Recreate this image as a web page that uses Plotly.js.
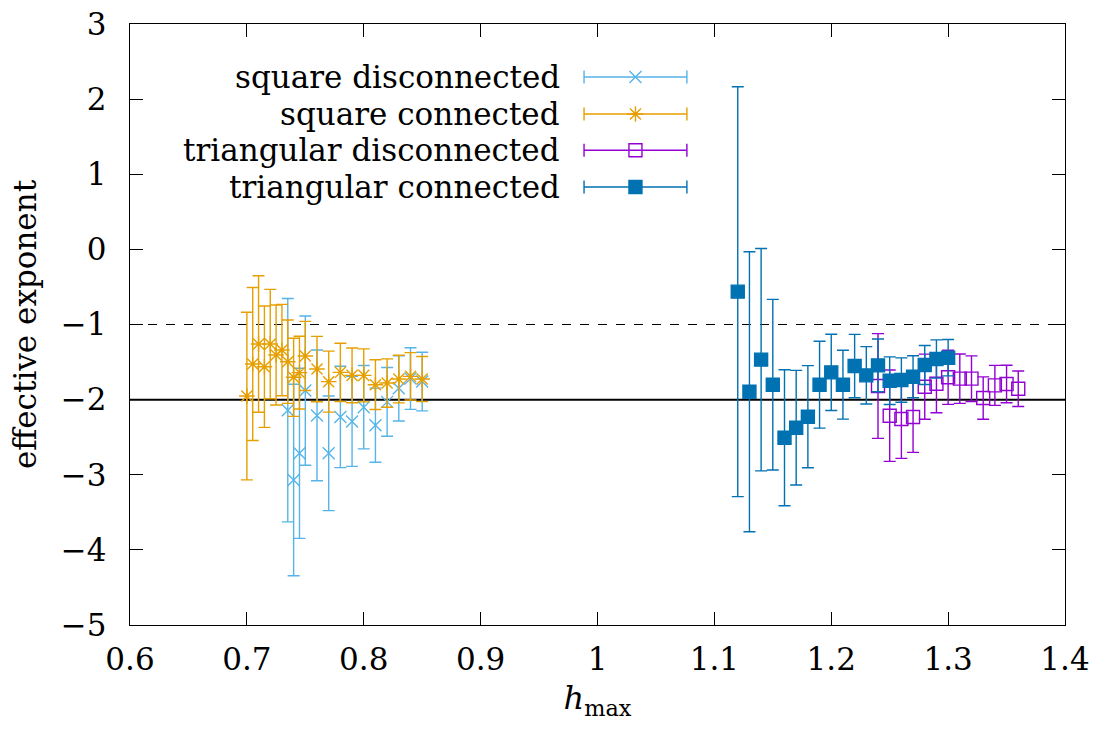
<!DOCTYPE html>
<html>
<head>
<meta charset="utf-8">
<script src="https://cdn.plot.ly/plotly-3.0.1.min.js"></script>
<style>html,body{margin:0;padding:0;background:#fff;}#chart{width:1096px;height:733px;}</style>
</head>
<body>
<div id="chart"></div>
<script>
// ---- data ----
const seriesNames = ["square disconnected", "square connected", "triangular disconnected", "triangular connected"];

const sqDisX = [0.735, 0.74, 0.745, 0.75, 0.76, 0.77, 0.78, 0.79, 0.80, 0.81, 0.82, 0.83, 0.84, 0.85];
const sqDisY = [-2.14, -3.07, -2.715, -1.88, -2.21, -2.715, -2.23, -2.29, -2.10, -2.34, -2.03, -1.85, -1.72, -1.76];
const sqDisErr = [1.487, 1.274, 1.132, 0.994, 0.87, 0.763, 0.675, 0.599, 0.555, 0.493, 0.457, 0.435, 0.41, 0.39];

const sqConX = [0.70, 0.705, 0.71, 0.715, 0.72, 0.725, 0.73, 0.735, 0.74, 0.745, 0.75, 0.76, 0.77, 0.78, 0.79, 0.80, 0.81, 0.82, 0.83, 0.84, 0.85];
const sqConY = [-1.952, -1.526, -1.26, -1.562, -1.26, -1.406, -1.34, -1.495, -1.703, -1.641, -1.419, -1.593, -1.761, -1.637, -1.677, -1.677, -1.801, -1.779, -1.726, -1.69, -1.726];
const sqConErr = [1.116, 1.019, 0.908, 0.808, 0.728, 0.666, 0.608, 0.555, 0.52, 0.484, 0.46, 0.435, 0.406, 0.388, 0.364, 0.353, 0.331, 0.322, 0.317, 0.315, 0.30];

const triDisX = [1.24, 1.25, 1.26, 1.27, 1.28, 1.29, 1.30, 1.31, 1.32, 1.33, 1.34, 1.35, 1.36];
const triDisY = [-1.819, -2.214, -2.258, -2.232, -1.828, -1.788, -1.703, -1.721, -1.721, -1.979, -1.81, -1.792, -1.855];
const triDisErr = [0.697, 0.608, 0.524, 0.47, 0.433, 0.386, 0.36, 0.329, 0.304, 0.282, 0.266, 0.249, 0.237];

const triConX = [1.12, 1.13, 1.14, 1.15, 1.16, 1.17, 1.18, 1.19, 1.20, 1.21, 1.22, 1.23, 1.24, 1.25, 1.26, 1.27, 1.28, 1.29, 1.30];
const triConY = [-0.563, -1.895, -1.468, -1.801, -2.507, -2.374, -2.227, -1.801, -1.637, -1.801, -1.553, -1.677, -1.544, -1.748, -1.739, -1.695, -1.539, -1.459, -1.442];
const triConErr = [2.728, 1.864, 1.48, 1.136, 0.905, 0.763, 0.679, 0.579, 0.508, 0.459, 0.422, 0.382, 0.351, 0.317, 0.295, 0.28, 0.26, 0.255, 0.242];

const refDashed = -1;
const refSolid = -2;

const xTicks = [0.6, 0.7, 0.8, 0.9, 1.0, 1.1, 1.2, 1.3, 1.4];
const yTicks = [-5, -4, -3, -2, -1, 0, 1, 2, 3];

// ---- styles ----
const colors = ["#56B4E9", "#E69F00", "#9400D3", "#0072B2"];
const symbols = ["x-thin-open", "asterisk-open", "square-open", "square"];
const sizes = [12, 13, 13, 13];
const FONT = "DejaVu Serif";
const FS = 31;

function errTrace(x, y, e, i) {
  return {
    x: x, y: y, type: "scatter", mode: "markers", name: seriesNames[i],
    showlegend: false, cliponaxis: false,
    marker: { symbol: symbols[i], size: sizes[i], color: colors[i], line: { color: colors[i], width: 1.4 } },
    error_y: { type: "data", array: e, visible: true, color: colors[i], thickness: 1.4, width: 6 },
    hoverinfo: "x+y"
  };
}

const traces = [
  errTrace(sqDisX, sqDisY, sqDisErr, 0),
  errTrace(sqConX, sqConY, sqConErr, 1),
  errTrace(triDisX, triDisY, triDisErr, 2),
  errTrace(triConX, triConY, triConErr, 3)
];

// legend samples (gnuplot-style: label left, sample with caps right) on a hidden overlay axis
const legRowY = [0.9118, 0.8502, 0.790, 0.7288];
const legSampleX = 0.5406, legHalf = 0.055, legTextX = 0.4625;
const annotations = [];
for (let i = 0; i < 4; i++) {
  traces.push({
    x: [legSampleX], y: [legRowY[i]], xaxis: "x2", yaxis: "y2", type: "scatter", mode: "markers",
    showlegend: false, hoverinfo: "skip", cliponaxis: false,
    marker: { symbol: symbols[i], size: sizes[i], color: colors[i], line: { color: colors[i], width: 1.4 } },
    error_x: { type: "constant", value: legHalf, visible: true, color: colors[i], thickness: 1.4, width: 6.5 }
  });
  annotations.push({
    xref: "paper", yref: "paper", x: legTextX, y: legRowY[i], xanchor: "right", yanchor: "middle",
    text: seriesNames[i], showarrow: false, font: { family: FONT, size: FS, color: "#000" }
  });
}

const axisCommon = {
  showgrid: false, zeroline: false, showline: true, mirror: "ticks", linecolor: "#000", linewidth: 1.3,
  ticks: "inside", ticklen: 13, tickwidth: 1.2, tickcolor: "#000",
  tickfont: { family: FONT, size: FS, color: "#000" }
};

const layout = {
  width: 1096, height: 733,
  margin: { l: 130, r: 31, t: 24, b: 108 },
  paper_bgcolor: "#fff", plot_bgcolor: "#fff",
  showlegend: false,
  xaxis: Object.assign({}, axisCommon, {
    range: [0.6, 1.4], tickvals: xTicks, ticktext: xTicks.map(v => String(Number(v.toFixed(1)))),
    ticklabelstandoff: 6,
    title: { text: "<i>h</i><sub>max</sub>", font: { family: FONT, size: 32, color: "#000" }, standoff: 11 }
  }),
  yaxis: Object.assign({}, axisCommon, {
    range: [-5, 3], tickvals: yTicks, ticktext: yTicks.map(v => v < 0 ? "\u2212" + Math.abs(v) : String(v)),
    ticklabelstandoff: 16,
    title: { text: "effective exponent", font: { family: FONT, size: FS, color: "#000" }, standoff: 15 }
  }),
  xaxis2: { overlaying: "x", range: [0, 1], visible: false, fixedrange: true },
  yaxis2: { overlaying: "y", range: [0, 1], visible: false, fixedrange: true },
  shapes: [
    { type: "line", xref: "paper", yref: "y", x0: 0, x1: 1, y0: refDashed, y1: refDashed, layer: "below",
      line: { color: "#000", width: 1, dash: "dash" } },
    { type: "line", xref: "paper", yref: "y", x0: 0, x1: 1, y0: refSolid, y1: refSolid, layer: "below",
      line: { color: "#000", width: 2 } }
  ],
  annotations: annotations
};

Plotly.newPlot("chart", traces, layout, { staticPlot: true, displayModeBar: false });
</script>
</body>
</html>
